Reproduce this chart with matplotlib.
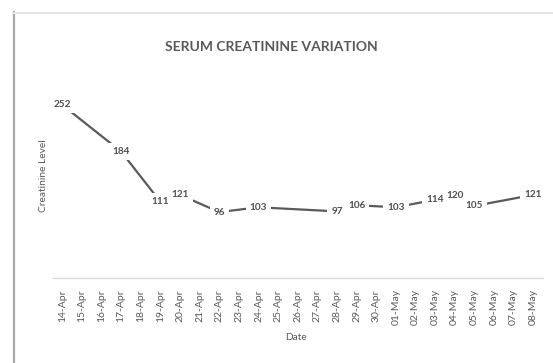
import matplotlib
matplotlib.use("Agg")
import matplotlib.pyplot as plt
from matplotlib.lines import Line2D

dates = ["14-Apr", "15-Apr", "16-Apr", "17-Apr", "18-Apr", "19-Apr", "20-Apr",
         "21-Apr", "22-Apr", "23-Apr", "24-Apr", "25-Apr", "26-Apr", "27-Apr",
         "28-Apr", "29-Apr", "30-Apr", "01-May", "02-May", "03-May", "04-May",
         "05-May", "06-May", "07-May", "08-May"]
measured_dates = ["14-Apr", "17-Apr", "19-Apr", "20-Apr", "22-Apr", "24-Apr",
                  "28-Apr", "29-Apr", "01-May", "03-May", "04-May", "05-May", "08-May"]
creatinine = [252, 184, 111, 121, 96, 103, 97, 106, 103, 114, 120, 105, 121]

font = ["Lato", "DejaVu Sans"]
text_col = "#595959"
line_col = "#5a5a5a"

fig = plt.figure(figsize=(5.53, 3.63), dpi=100)
fig.patch.set_facecolor("white")

# card frame: darker left edge and soft top shadow
fig.add_artist(Line2D([13.5 / 553, 13.5 / 553], [0, 1 - 12 / 363],
                      transform=fig.transFigure, color="#a8a8a8", lw=1.6))
fig.add_artist(Line2D([13 / 553, 1], [1 - 12.5 / 363, 1 - 12.5 / 363],
                      transform=fig.transFigure, color="#e6e6e6", lw=1.4))

ax = fig.add_axes([52.5 / 553, 1 - 278 / 363, (543 - 52.5) / 553, (278 - 72) / 363])
xpos = [dates.index(d) for d in measured_dates]
ax.plot(xpos, creatinine, color=line_col, lw=1.6, solid_capstyle="round", zorder=2)
for x, v in zip(xpos, creatinine):
    # white knock-out behind the label, then the label itself on top of every knock-out
    ax.text(x, v, str(v), ha="center", va="center", fontsize=7.2, fontweight="bold",
            color="white", family=font, zorder=3,
            bbox=dict(boxstyle="square,pad=0.4", fc="white", ec="none"))
    ax.text(x, v, str(v), ha="center", va="center", fontsize=7.2, fontweight="bold",
            color="#505050", family=font, zorder=4)

ax.set_xlim(-0.5, len(dates) - 0.5)
ax.set_ylim(0, 300)
ax.set_xticks(range(len(dates)))
ax.set_xticklabels(dates, rotation=90, fontsize=7.5, color=text_col, family=font)
ax.tick_params(axis="x", length=0, pad=8)
ax.set_yticks([])
for s in ["top", "right", "left"]:
    ax.spines[s].set_visible(False)
ax.spines["bottom"].set_color("#d9d9d9")
ax.spines["bottom"].set_linewidth(1.0)

fig.text(271 / 553, 1 - 47 / 363, "SERUM CREATININE VARIATION", ha="center", va="center",
         fontsize=10, fontweight="bold", color=text_col, family=font)
fig.text(44 / 553, 1 - 176 / 363, "Creatinine Level", rotation=90, ha="center", va="center",
         fontsize=7.3, color=text_col, family=font)
fig.text(296 / 553, 1 - 337 / 363, "Date", ha="center", va="center",
         fontsize=7.3, color=text_col, family=font)

fig.savefig("out.png", dpi=100, facecolor="white")
